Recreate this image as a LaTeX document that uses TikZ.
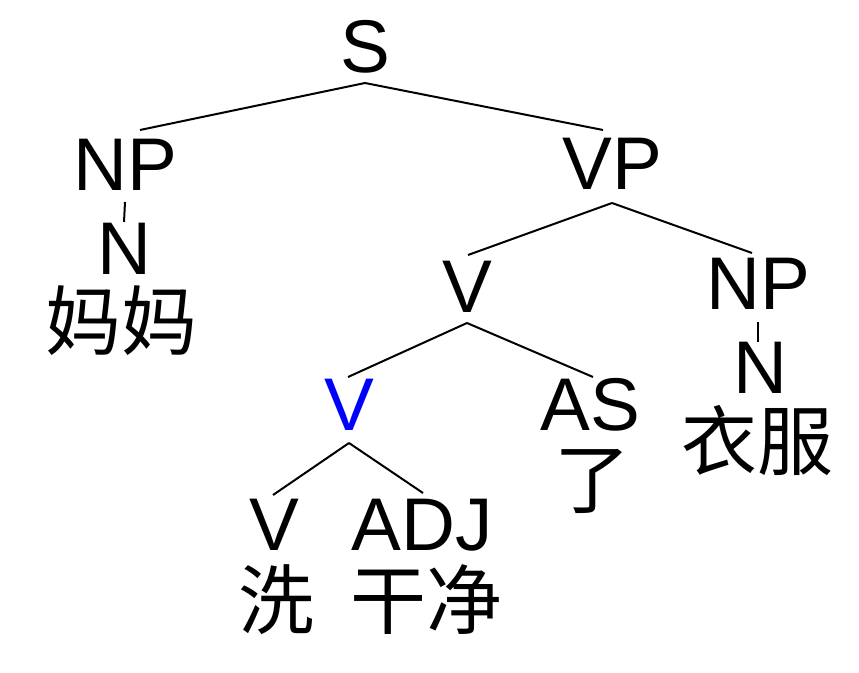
\documentclass[tikz,border=0pt]{standalone}
\usepackage{fontspec}
\setmainfont{Liberation Sans}
\newfontfamily\cjk{Noto Sans CJK SC}
\usetikzlibrary{calc}
\definecolor{headblue}{RGB}{0,0,255}
\begin{document}
\begin{tikzpicture}[x=0.75pt,y=-0.75pt,
  lab/.style={inner sep=0pt, outer sep=0pt, anchor=base, text height=43.5pt, text depth=0pt, font=\fontsize{56}{60}\selectfont},
  leaf/.style={inner sep=0pt, outer sep=0pt, anchor=base, text height=38pt, text depth=0pt, font=\cjk\fontsize{57}{60}\selectfont},
  edge/.style={line width=1.5pt, black}]
\useasboundingbox (0,0) rectangle (859,673);
% labels
\node[lab] (S)   at (365,73)  {S};
\node[lab] (NPL) at (125,191) {NP};
\node[lab] (NL)  at (124,275) {N};
\node[leaf] (mama) at (121,349) {妈妈};
\node[lab] (VP)  at (612,190) {VP};
\node[lab] (Vm)  at (467,312) {V};
\node[lab] (NPR) at (758,310) {NP};
\node[lab] (NR)  at (760,393) {N};
\node[leaf] (yifu) at (757,469) {衣服};
\node[lab, text=headblue] (Vb) at (349,430) {V};
\node[lab] (AS)  at (590,430) {AS};
\node[leaf] (le) at (592,507) {了};
\node[lab] (V2)  at (274,550) {V};
\node[lab] (ADJ) at (422,550) {ADJ};
\node[leaf] (xi) at (276,628) {洗};
\node[leaf] (ganjing) at (426,628) {干净};
% connectors
\draw[edge] ($(S.south)+(0,10)$) -- ($(NPL.north)+(15,-3)$);
\draw[edge] ($(S.south)+(0,10)$) -- ($(VP.north)+(-9,-2)$);
\draw[edge] ($(NPL.south)+(0,11)$) -- ($(NL.north)+(0,5)$);
\draw[edge] ($(VP.south)+(0,13)$) -- ($(Vm.north)+(1,1)$);
\draw[edge] ($(VP.south)+(0,13)$) -- ($(NPR.north)+(-6,1)$);
\draw[edge] ($(NPR.south)+(0,12)$) -- ($(NR.north)+(-2,7)$);
\draw[edge] ($(Vm.south)+(0,11)$) -- ($(Vb.north)+(-1,5)$);
\draw[edge] ($(Vm.south)+(0,11)$) -- ($(AS.north)+(3,5)$);
\draw[edge] ($(Vb.south)+(0,13)$) -- ($(V2.north)+(-1,3)$);
\draw[edge] ($(Vb.south)+(0,13)$) -- ($(ADJ.north)+(1,1)$);
\end{tikzpicture}
\end{document}
